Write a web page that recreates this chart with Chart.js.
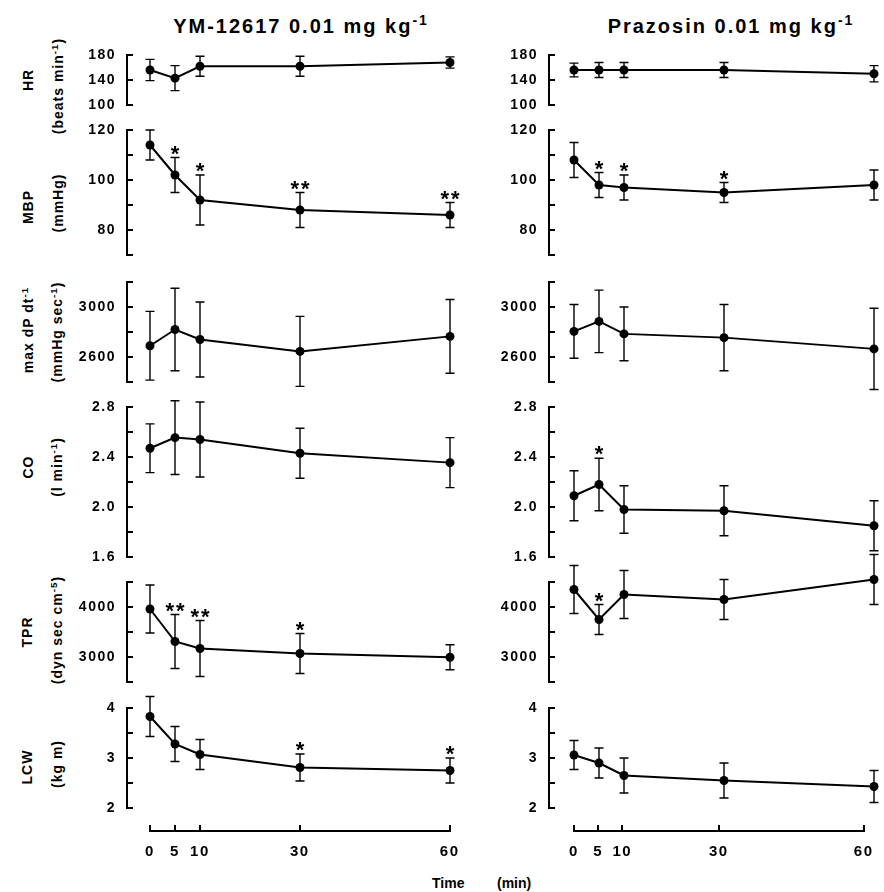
<!DOCTYPE html>
<html><head><meta charset="utf-8">
<script src="https://cdn.jsdelivr.net/npm/chart.js@4.4.1/dist/chart.umd.min.js"></script>
<style>
body{margin:0;width:884px;height:892px;background:#fff;position:relative;overflow:hidden;font-family:"Liberation Sans",Arial,sans-serif;color:#000}
canvas{position:absolute}
.ttl{position:absolute;top:16px;font-size:20px;font-weight:bold;line-height:1;letter-spacing:2px;white-space:nowrap;transform:translateX(-50%)}
.yl{position:absolute;font-size:14px;font-weight:bold;letter-spacing:1px;line-height:1;white-space:nowrap;transform:translate(-50%,-50%) rotate(-90deg)}
.tx{position:absolute;top:876px;font-size:14px;font-weight:bold;line-height:1}
sup{font-size:0.7em;line-height:0;vertical-align:0.55em}
</style></head><body>
<div class="ttl" style="left:301px">YM-12617 0.01 mg kg<sup>-1</sup></div>
<div class="ttl" style="left:731px">Prazosin 0.01 mg kg<sup>-1</sup></div>
<div class="yl" style="left:28px;top:80px">HR</div>
<div class="yl" style="left:58px;top:86px">(beats min<sup>-1</sup>)</div>
<div class="yl" style="left:28px;top:207px">MBP</div>
<div class="yl" style="left:58px;top:203px">(mmHg)</div>
<div class="yl" style="left:28px;top:330px">max dP dt<sup>-1</sup></div>
<div class="yl" style="left:57px;top:332px">(mmHg sec<sup>-1</sup>)</div>
<div class="yl" style="left:28px;top:467px">CO</div>
<div class="yl" style="left:57px;top:467px">(l min<sup>-1</sup>)</div>
<div class="yl" style="left:27px;top:632px">TPR</div>
<div class="yl" style="left:57px;top:630px">(dyn sec cm<sup>-5</sup>)</div>
<div class="yl" style="left:27px;top:767px">LCW</div>
<div class="yl" style="left:57px;top:764px">(kg m)</div>
<div class="tx" style="left:432px">Time</div>
<div class="tx" style="left:497px">(min)</div>
<script>
// time after dosing (min)
const times = [0, 5, 10, 30, 60];

// YM-12617: means, SE, significance marks
const ymHR = [156, 143, 162, 162, 168],        ymHRErr = [17, 20, 16, 16, 9];
const ymMBP = [114, 102, 92, 88, 86],          ymMBPErr = [6, 7, 10, 7, 5];
const ymDP = [2690, 2820, 2740, 2645, 2765],   ymDPErr = [275, 330, 300, 280, 295];
const ymCO = [2.47, 2.555, 2.54, 2.43, 2.355], ymCOErr = [0.195, 0.295, 0.30, 0.20, 0.20];
const ymTPR = [3960, 3310, 3170, 3070, 2995],  ymTPRErr = [480, 540, 560, 400, 250];
const ymLCW = [3.83, 3.28, 3.07, 2.81, 2.75],  ymLCWErr = [0.40, 0.35, 0.30, 0.27, 0.25];
const ymMBPSig = ['', '*', '*', '**', '**'];
const ymTPRSig = ['', '**', '**', '*', ''];
const ymLCWSig = ['', '', '', '*', '*'];

// Prazosin
const pzHR = [156, 156, 156, 156, 150],        pzHRErr = [11, 12, 12, 12, 13];
const pzMBP = [108, 98, 97, 95, 98],           pzMBPErr = [7, 5, 5, 4, 6];
const pzDP = [2805, 2885, 2785, 2755, 2665],   pzDPErr = [215, 250, 215, 265, 325];
const pzCO = [2.09, 2.18, 1.98, 1.97, 1.85],   pzCOErr = [0.20, 0.21, 0.19, 0.20, 0.20];
const pzTPR = [4350, 3750, 4250, 4150, 4550],  pzTPRErr = [480, 300, 480, 400, 500];
const pzLCW = [3.06, 2.90, 2.65, 2.55, 2.43],  pzLCWErr = [0.29, 0.30, 0.35, 0.35, 0.32];
const pzMBPSig = ['', '*', '*', '*', ''];
const pzCOSig = ['', '*', '', '', ''];
const pzTPRSig = ['', '*', '', '', ''];

// labelled y ticks per panel
const hrLabels = [100, 140, 180];
const mbpLabels = [80, 100, 120];
const dpLabels = [2600, 3000];
const coLabels = [1.6, 2.0, 2.4, 2.8];
const tprLabels = [3000, 4000];
const lcwLabels = [2, 3, 4];

// layout
const cols = [
  {left: 60, w: 400, yw: 67, xmin: -4.6},
  {left: 490, w: 394, yw: 59, xmin: -5}
];
const rows = [
  {top: 55, bot: 105, min: 100, max: 180, step: 40, labels: hrLabels, dec: 0},
  {top: 130, bot: 255, min: 70, max: 120, step: 10, labels: mbpLabels, dec: 0},
  {top: 282, bot: 382, min: 2400, max: 3200, step: 200, labels: dpLabels, dec: 0},
  {top: 407, bot: 557, min: 1.6, max: 2.8, step: 0.2, labels: coLabels, dec: 1},
  {top: 582, bot: 682, min: 2500, max: 4500, step: 500, labels: tprLabels, dec: 0},
  {top: 708, bot: 808, min: 2, max: 4, step: 0.5, labels: lcwLabels, dec: 0}
];
const PAD = 40;

Chart.defaults.font.family = '"Liberation Sans", Arial, sans-serif';
Chart.defaults.color = '#000';

const spacing = {id: 'spacing', beforeDraw(chart){ chart.ctx.letterSpacing = '1.5px'; }};

const errBars = {id: 'errBars', afterDatasetsDraw(chart){
  const {ctx, scales: {x, y}} = chart;
  chart.data.datasets.forEach(ds => {
    if(!ds.errs) return;
    ctx.save();
    ctx.strokeStyle = '#000'; ctx.lineWidth = 1.4;
    ds.data.forEach((p, i) => {
      const px = x.getPixelForValue(p.x);
      const hi = y.getPixelForValue(p.y + ds.errs[i]);
      const lo = y.getPixelForValue(p.y - ds.errs[i]);
      ctx.beginPath();
      ctx.moveTo(px, hi); ctx.lineTo(px, lo);
      ctx.moveTo(px - 4.5, hi); ctx.lineTo(px + 4.5, hi);
      ctx.moveTo(px - 4.5, lo); ctx.lineTo(px + 4.5, lo);
      ctx.stroke();
      const s = ds.sig && ds.sig[i];
      if(s){
        ctx.font = 'bold 22px "Liberation Sans", Arial';
        ctx.textAlign = 'center'; ctx.textBaseline = 'alphabetic';
        ctx.letterSpacing = '2px';
        const m = ctx.measureText(s);
        ctx.fillText(s, px + 1, hi - 3 - m.actualBoundingBoxDescent);
      }
    });
    ctx.restore();
  });
}};

function addCanvas(left, top, w, h){
  const cv = document.createElement('canvas');
  cv.width = w; cv.height = h;
  cv.style.left = left + 'px'; cv.style.top = top + 'px';
  document.body.appendChild(cv);
  return cv;
}

function panel(ci, ri, vals, errs, sig){
  const c = cols[ci], r = rows[ri];
  const cv = addCanvas(c.left, r.top - PAD, c.w, r.bot - r.top + 2 * PAD);
  new Chart(cv, {
    type: 'line',
    data: {datasets: [{
      data: times.map((t, i) => ({x: t, y: vals[i]})),
      errs, sig,
      borderColor: '#000', borderWidth: 2, tension: 0,
      pointRadius: 4.5, pointBackgroundColor: '#000', pointBorderWidth: 0,
      clip: false
    }]},
    options: {
      responsive: false, animation: false, events: [],
      layout: {padding: {left: 0, right: 5, top: PAD, bottom: PAD}},
      plugins: {legend: {display: false}, tooltip: {enabled: false}},
      scales: {
        x: {type: 'linear', display: false, min: c.xmin, max: 61},
        y: {
          min: r.min, max: r.max,
          afterFit: s => { s.width = c.yw; },
          border: {display: true, color: '#000', width: 2},
          grid: {drawOnChartArea: false, drawTicks: true, tickLength: -6, color: '#000', lineWidth: 2},
          ticks: {
            stepSize: r.step, padding: 17, autoSkip: false,
            font: {size: 14, weight: 'bold'},
            callback: v => r.labels.some(l => Math.abs(l - v) < 1e-6) ? v.toFixed(r.dec) : ''
          }
        }
      }
    },
    plugins: [spacing, errBars]
  });
}

function timeAxis(left, w, padL, padR){
  const cv = addCanvas(left, 800, w, 70);
  new Chart(cv, {
    type: 'line',
    data: {datasets: []},
    options: {
      responsive: false, animation: false, events: [],
      layout: {padding: {left: padL, right: padR, top: 25, bottom: 0}},
      plugins: {legend: {display: false}, tooltip: {enabled: false}},
      scales: {
        x: {
          type: 'linear', min: 0, max: 60,
          afterBuildTicks: s => { s.ticks = times.map(v => ({value: v})); },
          afterFit: s => { s.height = 39; },
          border: {display: true, color: '#000', width: 2},
          grid: {drawOnChartArea: true, drawTicks: false, color: '#000', lineWidth: 2},
          ticks: {padding: 12, autoSkip: false, maxRotation: 0, font: {size: 15, weight: 'bold'}}
        },
        y: {display: false, min: 0, max: 1}
      }
    },
    plugins: [spacing]
  });
}

panel(0, 0, ymHR, ymHRErr);
panel(0, 1, ymMBP, ymMBPErr, ymMBPSig);
panel(0, 2, ymDP, ymDPErr);
panel(0, 3, ymCO, ymCOErr);
panel(0, 4, ymTPR, ymTPRErr, ymTPRSig);
panel(0, 5, ymLCW, ymLCWErr, ymLCWSig);

panel(1, 0, pzHR, pzHRErr);
panel(1, 1, pzMBP, pzMBPErr, pzMBPSig);
panel(1, 2, pzDP, pzDPErr);
panel(1, 3, pzCO, pzCOErr, pzCOSig);
panel(1, 4, pzTPR, pzTPRErr, pzTPRSig);
panel(1, 5, pzLCW, pzLCWErr);

timeAxis(130, 340, 20, 20);
timeAxis(554, 330, 20, 10);
</script>
</body></html>
